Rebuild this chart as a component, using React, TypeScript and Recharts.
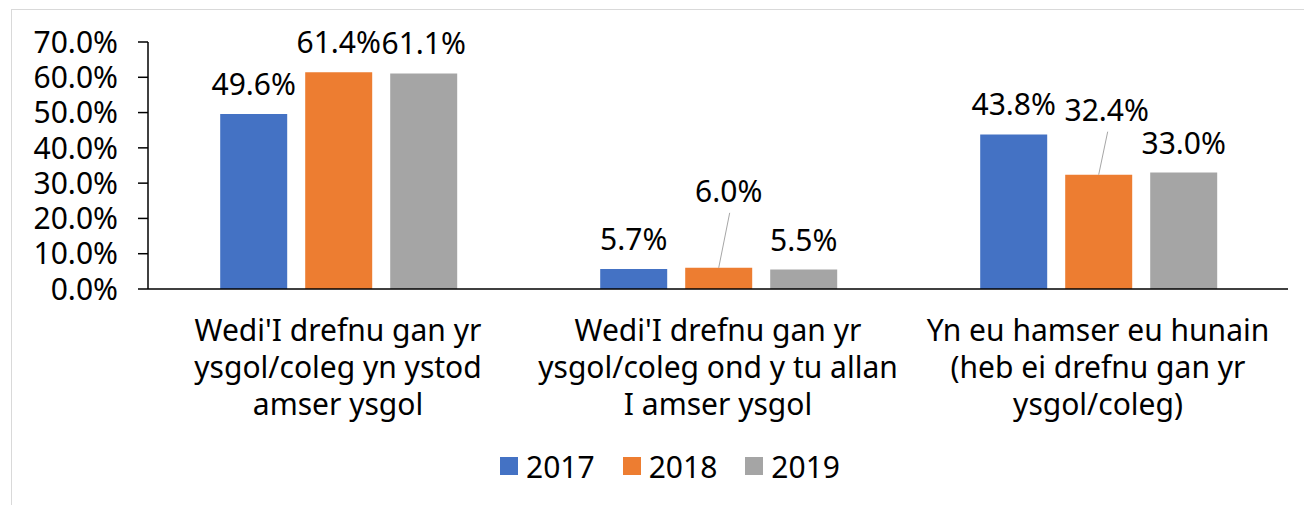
import React from "react";
import { BarChart, Bar, XAxis, YAxis, Legend, LabelList } from "recharts";

const categories = [
  "Wedi'I drefnu gan yr\nysgol/coleg yn ystod\namser ysgol",
  "Wedi'I drefnu gan yr\nysgol/coleg ond y tu allan\nI amser ysgol",
  "Yn eu hamser eu hunain\n(heb ei drefnu gan yr\nysgol/coleg)",
];
const values2017 = [49.6, 5.7, 43.8];
const values2018 = [61.4, 6.0, 32.4];
const values2019 = [61.1, 5.5, 33.0];
const yTicks = [0, 10, 20, 30, 40, 50, 60, 70];

const series = [
  { key: "2017", color: "#4472C4" },
  { key: "2018", color: "#ED7D31" },
  { key: "2019", color: "#A5A5A5" },
];

const data = categories.map((name, i) => ({
  name,
  "2017": values2017[i],
  "2018": values2018[i],
  "2019": values2019[i],
}));

const FONT = "'Noto Sans', sans-serif";
const FS = 30;

// 2018 labels moved away from the bar with a leader line (per category index)
const nudge2018: Record<number, { dx: number; dy: number }> = {
  1: { dx: 10, dy: -66 },
  2: { dx: 8, dy: -54 },
};

const fmt = (v: number) => v.toFixed(1) + "%";

const makeLabel = (moved: Record<number, { dx: number; dy: number }>) => (props: any) => {
  const { x, y, width, value, index } = props;
  const cx = x + width / 2;
  const n = moved[index];
  if (n) {
    const lx = cx + n.dx;
    const ly = y + n.dy;
    return (
      <g>
        <line x1={lx + 1} y1={ly + 11} x2={cx} y2={y} stroke="#A6A6A6" strokeWidth={1} />
        <text x={lx} y={ly} textAnchor="middle" fontSize={FS} fontFamily={FONT} fill="#000">
          {fmt(value)}
        </text>
      </g>
    );
  }
  return (
    <text x={cx} y={y - 19} textAnchor="middle" fontSize={FS} fontFamily={FONT} fill="#000">
      {fmt(value)}
    </text>
  );
};

const CategoryTick = (props: any) => {
  const { x, y, payload } = props;
  const lines = String(payload.value).split("\n");
  return (
    <text x={x} y={y} textAnchor="middle" fontSize={FS} fontFamily={FONT} fill="#000">
      {lines.map((l, i) => (
        <tspan key={i} x={x} y={y + 52 + i * 37}>
          {l}
        </tspan>
      ))}
    </text>
  );
};

const LegendContent = () => (
  <div
    style={{
      height: 40,
      display: "flex",
      justifyContent: "center",
      alignItems: "center",
      fontFamily: FONT,
      fontSize: FS,
      color: "#000",
      paddingLeft: 80,
    }}
  >
    {series.map((s) => (
      <div key={s.key} style={{ display: "flex", alignItems: "center", marginRight: 28 }}>
        <span style={{ width: 18, height: 18, background: s.color, display: "inline-block", marginRight: 8 }} />
        <span>{s.key}</span>
      </div>
    ))}
  </div>
);

export default function App() {
  return (
    <div style={{ position: "absolute", left: 0, top: 0, width: 1304, height: 505, overflow: "hidden", background: "#fff" }}>
      <div
        style={{
          position: "absolute",
          left: 11,
          top: 9,
          width: 1310,
          height: 510,
          border: "1px solid #D9D9D9",
        }}
      />
      <BarChart
        width={1304}
        height={505}
        data={data}
        margin={{ top: 42, right: 16, left: 0, bottom: 19 }}
        barCategoryGap="19%"
        barGap={18}
      >
        <XAxis
          dataKey="name"
          height={157}
          tick={<CategoryTick />}
          tickLine={false}
          tickSize={0}
          tickMargin={0}
          axisLine={{ stroke: "#000", strokeWidth: 1.5 }}
          interval={0}
        />
        <YAxis
          width={148}
          domain={[0, 70]}
          ticks={yTicks}
          tickFormatter={fmt}
          tickSize={10}
          tickMargin={20}
          axisLine={{ stroke: "#000", strokeWidth: 1.5 }}
          tickLine={{ stroke: "#000", strokeWidth: 1.5 }}
          tick={{ fontSize: FS, fontFamily: FONT, fill: "#000" }}
          interval={0}
        />
        <Legend verticalAlign="bottom" content={<LegendContent />} />
        {series.map((s) => (
          <Bar key={s.key} dataKey={s.key} fill={s.color} isAnimationActive={false}>
            <LabelList dataKey={s.key} content={makeLabel(s.key === "2018" ? nudge2018 : {})} />
          </Bar>
        ))}
      </BarChart>
    </div>
  );
}
